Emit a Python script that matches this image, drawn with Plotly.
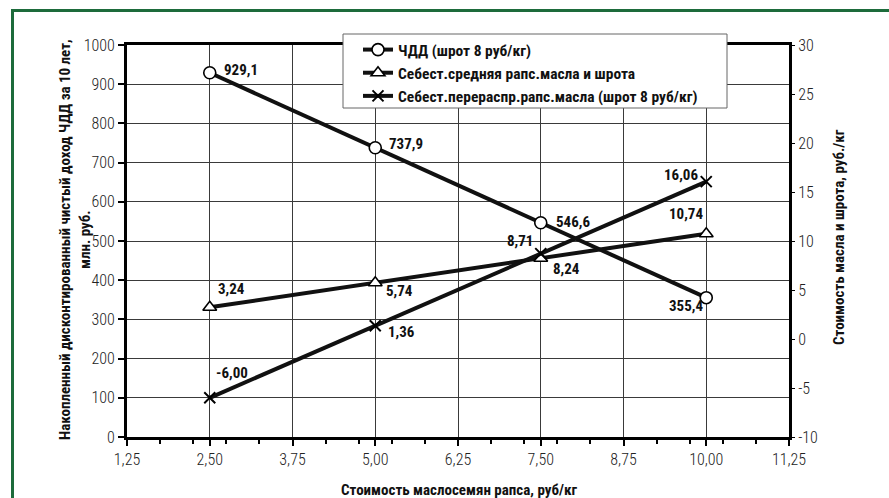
import plotly.graph_objects as go

# Стоимость маслосемян рапса, руб/кг
price = [2.5, 5.0, 7.5, 10.0]
# ЧДД, млн. руб. (left axis)
npv = [929.1, 737.9, 546.6, 355.4]
npv_labels = ["929,1", "737,9", "546,6", "355,4"]
# Себестоимость, руб./кг (right axis)
cost_avg = [3.24, 5.74, 8.24, 10.74]
cost_avg_labels = ["3,24", "5,74", "8,24", "10,74"]
cost_redist = [-6.00, 1.36, 8.71, 16.06]
cost_redist_labels = ["-6,00", "1,36", "8,71", "16,06"]

x_ticks = [1.25, 2.5, 3.75, 5.0, 6.25, 7.5, 8.75, 10.0, 11.25]
x_ticktext = ["1,25", "2,50", "3,75", "5,00", "6,25", "7,50", "8,75", "10,00", "11,25"]
y_ticks = [0, 100, 200, 300, 400, 500, 600, 700, 800, 900, 1000]
y2_ticks = [-10, -5, 0, 5, 10, 15, 20, 25, 30]

FONT = "Roboto Condensed, Liberation Sans Narrow, DejaVu Sans Condensed, sans-serif"
GREEN = "#1d6b3b"
INK = "#111111"

# plot-area geometry in pixels (used to place paper-referenced items)
W, H = 889, 498
L, R, T, B = 127, 100, 45, 61
PW, PH = W - L - R, H - T - B


def px_x(px):
    return (px - L) / PW


def px_y(py):
    return (H - B - py) / PH


fig = go.Figure()

fig.add_trace(go.Scatter(
    x=price, y=npv, name="<b>ЧДД (шрот 8 руб/кг)</b>", mode="lines+markers",
    line=dict(color=INK, width=4),
    marker=dict(symbol="circle", size=12, color="white",
                line=dict(color="black", width=1.6)), yaxis="y"))
fig.add_trace(go.Scatter(
    x=price, y=cost_avg, name="<b>Себест.средняя рапс.масла и шрота</b>",
    mode="lines+markers", line=dict(color=INK, width=4),
    marker=dict(symbol="triangle-up", size=12, color="white",
                line=dict(color="black", width=1.6)), yaxis="y2"))
fig.add_trace(go.Scatter(
    x=price, y=cost_redist, name="<b>Себест.перераспр.рапс.масла (шрот 8 руб/кг)</b>",
    mode="lines+markers", line=dict(color=INK, width=4),
    marker=dict(symbol="x-thin-open", size=11, color="black",
                line=dict(color="black", width=2)), yaxis="y2"))

# value labels: anchor side, x offset, y offset (px, up is positive)
npv_pos = [("left", 12, 3), ("left", 12, 4), ("left", 13, 1), ("right", -1, -8)]
avg_pos = [("left", 6, 18), ("left", 9, -8), ("left", 10, -11), ("right", -1, 20)]
red_pos = [("left", 4, 25), ("left", 11, -6), ("right", -6, 13), ("right", -6, 7)]

series = [
    (npv, npv_labels, npv_pos, "y"),
    (cost_avg, cost_avg_labels, avg_pos, "y2"),
    (cost_redist, cost_redist_labels, red_pos, "y2"),
]
for ys, texts, poss, yref in series:
    for xv, yv, t, (xa, xs, ysh) in zip(price, ys, texts, poss):
        fig.add_annotation(x=xv, y=yv, xref="x", yref=yref, text="<b>" + t + "</b>",
                           showarrow=False, xanchor=xa, yanchor="middle",
                           xshift=xs, yshift=ysh,
                           font=dict(family=FONT, size=15, color=INK))

title_font = dict(family=FONT, size=15, color=INK)
# axis titles
fig.add_annotation(xref="paper", yref="paper", x=px_x(75), y=px_y(240),
                   text="<b>Накопленный дисконтированный чистый доход ЧДД за 10 лет,<br>млн. руб.</b>",
                   textangle=-90, showarrow=False, xanchor="center", yanchor="middle",
                   font=title_font)
fig.add_annotation(xref="paper", yref="paper", x=px_x(839), y=px_y(237),
                   text="<b>Стоимость масла и шрота, руб./кг</b>",
                   textangle=-90, showarrow=False, xanchor="center", yanchor="middle",
                   font=title_font)
fig.add_annotation(xref="paper", yref="paper", x=px_x(459), y=px_y(490),
                   text="<b>Стоимость маслосемян рапса, руб/кг</b>",
                   showarrow=False, xanchor="center", yanchor="middle",
                   font=title_font)

tick_font = dict(family=FONT, size=16, color="#222", weight=300)

fig.update_layout(
    width=W, height=H,
    margin=dict(l=L, r=R, t=T, b=B),
    paper_bgcolor="white", plot_bgcolor="white",
    font=dict(family=FONT, color=INK),
    showlegend=True,
    legend=dict(
        x=px_x(358), y=px_y(33), xanchor="left", yanchor="top",
        bgcolor="rgba(0,0,0,0)", borderwidth=0,
        font=dict(family=FONT, size=15.5, color=INK),
        itemwidth=30, tracegroupgap=0,
    ),
    xaxis=dict(
        range=[1.25, 11.25], tickvals=x_ticks, ticktext=x_ticktext,
        showgrid=True, gridcolor="#3a3a3a", gridwidth=1,
        showline=True, linecolor="black", linewidth=3, mirror=True,
        ticks="outside", ticklen=6, tickcolor="black", tickwidth=1.5,
        minor=dict(tick0=0.25, dtick=0.5, ticks="outside", ticklen=4,
                   tickcolor="black", tickwidth=1.5, showgrid=False),
        tickfont=tick_font, zeroline=False,
    ),
    yaxis=dict(
        range=[0, 1000], tickvals=y_ticks, ticktext=[str(v) for v in y_ticks],
        showgrid=True, gridcolor="#3a3a3a", gridwidth=1,
        showline=True, linecolor="black", linewidth=3,
        ticks="outside", ticklen=6, tickcolor="black", tickwidth=1.5,
        tickfont=tick_font, zeroline=False,
    ),
    yaxis2=dict(
        range=[-10, 30], tickvals=y2_ticks, ticktext=[str(v) for v in y2_ticks],
        overlaying="y", side="right", showgrid=False,
        showline=True, linecolor="black", linewidth=3,
        ticks="outside", ticklen=3, tickcolor="black",
        tickfont=tick_font, zeroline=False,
    ),
)

# legend box (drawn over the plot, under the legend entries)
fig.add_shape(type="rect", xref="paper", yref="paper", layer="above",
              x0=px_x(343), x1=px_x(727), y0=px_y(108), y1=px_y(34),
              fillcolor="white", line=dict(color="#666", width=1))

# green frame around the figure
fig.add_shape(type="line", xref="paper", yref="paper",
              x0=px_x(12.5), x1=px_x(12.5), y0=px_y(H + 5), y1=px_y(10.5),
              line=dict(color=GREEN, width=3))
fig.add_shape(type="line", xref="paper", yref="paper",
              x0=px_x(11), x1=px_x(W + 5), y0=px_y(10.5), y1=px_y(10.5),
              line=dict(color=GREEN, width=3))

fig.write_html("out.html")
